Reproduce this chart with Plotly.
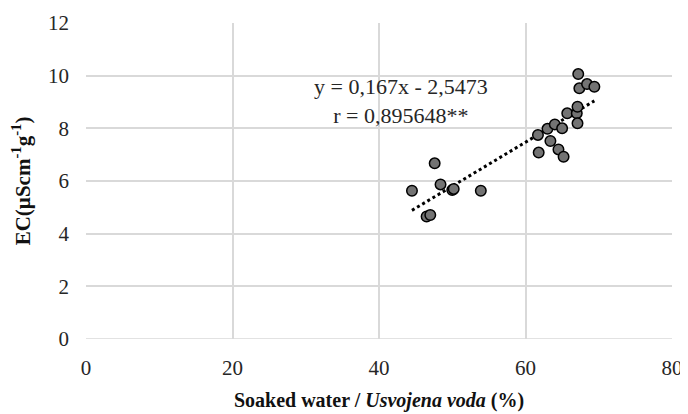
import plotly.graph_objects as go

soaked_water = [44.5, 46.5, 47.0, 47.6, 48.4, 50.0, 50.2, 53.9,
                61.7, 61.8, 63.0, 63.4, 64.0, 64.5, 65.0, 65.2, 65.7,
                67.0, 67.1, 67.1, 67.2, 67.35, 68.4, 69.4]
ec = [5.63, 4.65, 4.71, 6.67, 5.87, 5.66, 5.70, 5.63,
      7.75, 7.08, 7.98, 7.52, 8.15, 7.20, 8.00, 6.92, 8.57,
      8.57, 8.19, 8.82, 10.06, 9.52, 9.68, 9.58]
slope = 0.167
intercept = -2.5473
eq_text = "y = 0,167x - 2,5473<br>r = 0,895648**"
x_ticks = [0, 20, 40, 60, 80]
y_ticks = [0, 2, 4, 6, 8, 10, 12]

xmin, xmax = min(soaked_water), max(soaked_water)
trend_x = [xmin, xmax]
trend_y = [slope * v + intercept for v in trend_x]

serif = "Liberation Serif, Times New Roman, serif"
tickfont = dict(family=serif, size=21, color="#262626")

fig = go.Figure()
fig.add_trace(go.Scatter(x=trend_x, y=trend_y, mode="lines",
                         line=dict(color="black", width=3, dash="dot"),
                         showlegend=False, hoverinfo="skip"))
fig.add_trace(go.Scatter(x=soaked_water, y=ec, mode="markers",
                         marker=dict(size=10.5, color="#737373",
                                     line=dict(color="black", width=1.5)),
                         showlegend=False))

fig.add_annotation(x=43.0, y=9.02, xref="x", yref="y", text=eq_text,
                   showarrow=False, align="center",
                   font=dict(family=serif, size=22, color="#262626"))

fig.update_layout(
    width=688, height=414,
    margin=dict(l=78, r=24, t=15, b=83),
    paper_bgcolor="white", plot_bgcolor="white",
    font=dict(family=serif, size=21, color="#262626"),
    xaxis=dict(range=[0, 80], tickvals=x_ticks, showgrid=True,
               gridcolor="#d9d9d9", gridwidth=1.5, zeroline=False,
               showline=False, ticks="", tickfont=tickfont,
               ticklabelstandoff=14, automargin=False,
               title=dict(text="<b>Soaked water / <i>Usvojena voda</i> (%)</b>",
                          font=dict(family=serif, size=20, color="#111"),
                          standoff=13)),
    yaxis=dict(range=[0, 12], tickvals=y_ticks, showgrid=True,
               gridcolor="#d9d9d9", gridwidth=1.5, zeroline=False,
               showline=False, ticks="", tickfont=tickfont,
               ticklabelstandoff=16, automargin=False,
               title=dict(text="<b>EC(µScm<sup>-1</sup>g<sup>-1</sup>)</b>",
                          font=dict(family=serif, size=21, color="#111"),
                          standoff=16)),
)
fig.add_shape(type="line", xref="x", yref="y", x0=0, x1=80, y0=0, y1=0,
              line=dict(color="#d9d9d9", width=1.5))

fig.write_html("out.html")
